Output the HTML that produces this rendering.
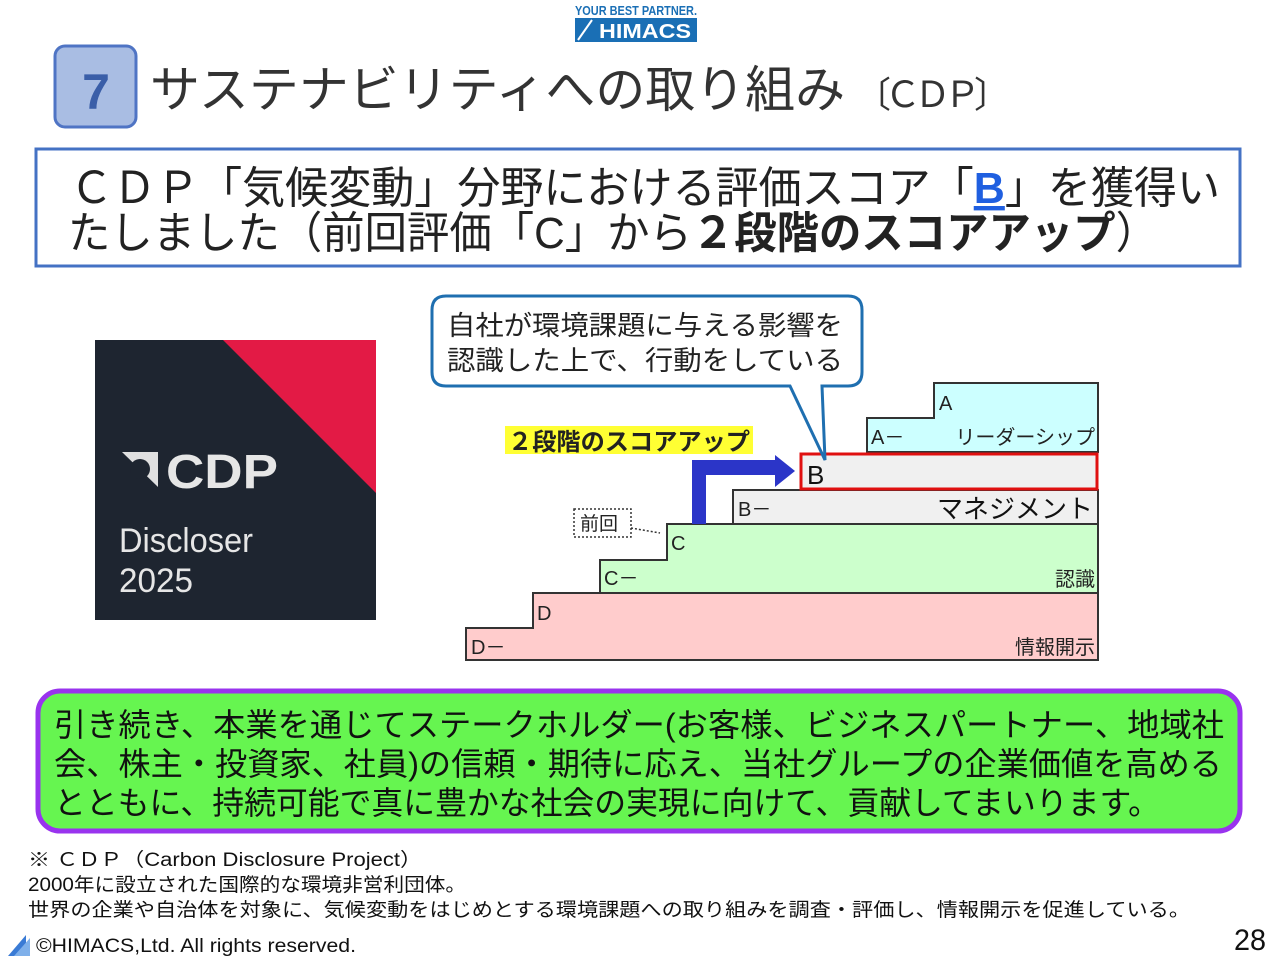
<!DOCTYPE html>
<html><head><meta charset="utf-8"><style>
html,body{margin:0;padding:0;background:#fff;width:1280px;height:960px;overflow:hidden}
svg text{font-family:"Liberation Sans","Noto Sans CJK JP",sans-serif}
</style></head><body>
<svg width="1280" height="960" viewBox="0 0 1280 960" xmlns="http://www.w3.org/2000/svg">
<text x="636" y="15" font-size="13" font-weight="bold" fill="#1a6fb5" text-anchor="middle" textLength="122" lengthAdjust="spacingAndGlyphs">YOUR BEST PARTNER.</text>
<rect x="575" y="18" width="122" height="24" fill="#1a6fb5"/>
<line x1="578" y1="40" x2="592" y2="20" stroke="#fff" stroke-width="2"/>
<text x="645" y="38" font-size="20" font-weight="bold" fill="#fff" text-anchor="middle" textLength="92" lengthAdjust="spacingAndGlyphs">HIMACS</text>
<rect x="55" y="46" width="81" height="81" rx="10" fill="#a9bde3" stroke="#4f74c4" stroke-width="3"/>
<text x="96" y="109" font-size="50" font-weight="bold" fill="#3a5ea8" text-anchor="middle" font-family="Liberation Serif,serif">7</text>
<text x="150" y="107" font-size="50" fill="#333" textLength="695" lengthAdjust="spacingAndGlyphs">サステナビリティへの取り組み</text>
<text x="855" y="107" font-size="36" fill="#333" textLength="155" lengthAdjust="spacing">〔ＣＤＰ〕</text>
<rect x="36" y="149" width="1204" height="117" fill="#fff" stroke="#4472c4" stroke-width="3"/>
<text x="70" y="203" font-size="44" fill="#222" textLength="1150" lengthAdjust="spacingAndGlyphs">ＣＤＰ「気候変動」分野における評価スコア「<tspan fill="#1f5fe0" font-weight="bold" text-decoration="underline">B</tspan>」を獲得い</text>
<text x="68" y="248" font-size="44" fill="#222" textLength="1090" lengthAdjust="spacingAndGlyphs">たしました（前回評価「C」から<tspan font-weight="bold">２段階のスコアアップ</tspan>）</text>
<rect x="95" y="340" width="281" height="280" fill="#1e2530"/>
<polygon points="223,340 376,340 376,493" fill="#e31a45"/>
<path d="M122 452 L158 452 L158 487 Z" fill="#e0e0e0"/>
<circle cx="140" cy="469" r="10" fill="#1e2530"/>
<text x="166" y="488" font-size="48" font-weight="bold" fill="#e6e6e6" textLength="112" lengthAdjust="spacingAndGlyphs">CDP</text>
<text x="119" y="552" font-size="34" fill="#e6e6e6" textLength="134" lengthAdjust="spacingAndGlyphs">Discloser</text>
<text x="119" y="592" font-size="34" fill="#e6e6e6" textLength="74" lengthAdjust="spacingAndGlyphs">2025</text>
<polygon points="466,628 533,628 533,593 1098,593 1098,660 466,660" fill="#ffcccc" stroke="#333" stroke-width="2"/>
<polygon points="600,593 600,560 667,560 667,524 1098,524 1098,593" fill="#ccffcc" stroke="#333" stroke-width="2"/>
<polygon points="733,524 733,490 1098,490 1098,524" fill="#f0f0f0" stroke="#333" stroke-width="2"/>
<polygon points="867,452 867,418 934,418 934,383 1098,383 1098,452" fill="#ccffff" stroke="#333" stroke-width="2"/>
<rect x="801" y="454" width="296" height="35" fill="#f0f0f0" stroke="#e01010" stroke-width="3"/>
<g font-size="20" fill="#222">
<text x="471" y="654">D－</text>
<text x="537" y="620">D</text>
<text x="604" y="585">C－</text>
<text x="671" y="550">C</text>
<text x="738" y="516">B－</text>
<text x="871" y="444">A－</text>
<text x="939" y="410">A</text>
<text x="1095" y="654" text-anchor="end">情報開示</text>
<text x="1095" y="586" text-anchor="end">認識</text>
<text x="1095" y="444" text-anchor="end">リーダーシップ</text>
</g>
<text x="1093" y="518" font-size="26" fill="#111" text-anchor="end">マネジメント</text>
<text x="807" y="484" font-size="26" fill="#111">B</text>
<path d="M692 524 L692 460 L775 460 L775 455 L795 471 L775 487 L775 475 L706 475 L706 524 Z" fill="#2b35c8"/>
<rect x="505" y="426" width="248" height="28" fill="#ffff33"/>
<text x="508" y="450" font-size="24" font-weight="bold" fill="#222" textLength="242" lengthAdjust="spacingAndGlyphs">２段階のスコアアップ</text>
<rect x="574" y="509" width="57" height="28" fill="#fff" stroke="#333" stroke-width="1.5" stroke-dasharray="2,2"/>
<text x="580" y="530" font-size="19" fill="#222">前回</text>
<path d="M631 528 L660 533" stroke="#333" stroke-width="1.5" stroke-dasharray="2,2"/>
<path d="M446 296 L848 296 Q862 296 862 310 L862 372 Q862 386 848 386 L822 386 L825 460 L790 386 L446 386 Q432 386 432 372 L432 310 Q432 296 446 296 Z" fill="#fff" stroke="#1f6fb0" stroke-width="3"/>
<text x="447" y="335" font-size="27" fill="#222" textLength="396" lengthAdjust="spacingAndGlyphs">自社が環境課題に与える影響を</text>
<text x="447" y="370" font-size="27" fill="#222" textLength="396" lengthAdjust="spacingAndGlyphs">認識した上で、行動をしている</text>
<rect x="38" y="691" width="1202" height="140" rx="22" fill="#66f550" stroke="#9933ee" stroke-width="5"/>
<g font-size="32" fill="#111">
<text x="54" y="736" textLength="1170" lengthAdjust="spacingAndGlyphs">引き続き、本業を通じてステークホルダー(お客様、ビジネスパートナー、地域社</text>
<text x="54" y="775" textLength="1168" lengthAdjust="spacingAndGlyphs">会、株主・投資家、社員)の信頼・期待に応え、当社グループの企業価値を高める</text>
<text x="54" y="814" textLength="1106" lengthAdjust="spacingAndGlyphs">とともに、持続可能で真に豊かな社会の実現に向けて、貢献してまいります。</text>
</g>
<g font-size="19" fill="#111">
<text x="28" y="866" textLength="394" lengthAdjust="spacingAndGlyphs">※ ＣＤＰ（Carbon Disclosure Project）</text>
<text x="28" y="891" textLength="438" lengthAdjust="spacingAndGlyphs">2000年に設立された国際的な環境非営利団体。</text>
<text x="28" y="916" textLength="1162" lengthAdjust="spacingAndGlyphs">世界の企業や自治体を対象に、気候変動をはじめとする環境課題への取り組みを調査・評価し、情報開示を促進している。</text>
</g>
<polygon points="8,956 26,935 26,956" fill="#3a7bd5"/>
<polygon points="14,956 30,938 30,956" fill="#7fb0ea"/>
<text x="36" y="952" font-size="19" fill="#111" font-family="Liberation Mono,monospace" textLength="320" lengthAdjust="spacingAndGlyphs">©HIMACS,Ltd. All rights reserved.</text>
<text x="1266" y="950" font-size="30" fill="#111" text-anchor="end" textLength="32" lengthAdjust="spacingAndGlyphs">28</text>
</svg>
</body></html>
